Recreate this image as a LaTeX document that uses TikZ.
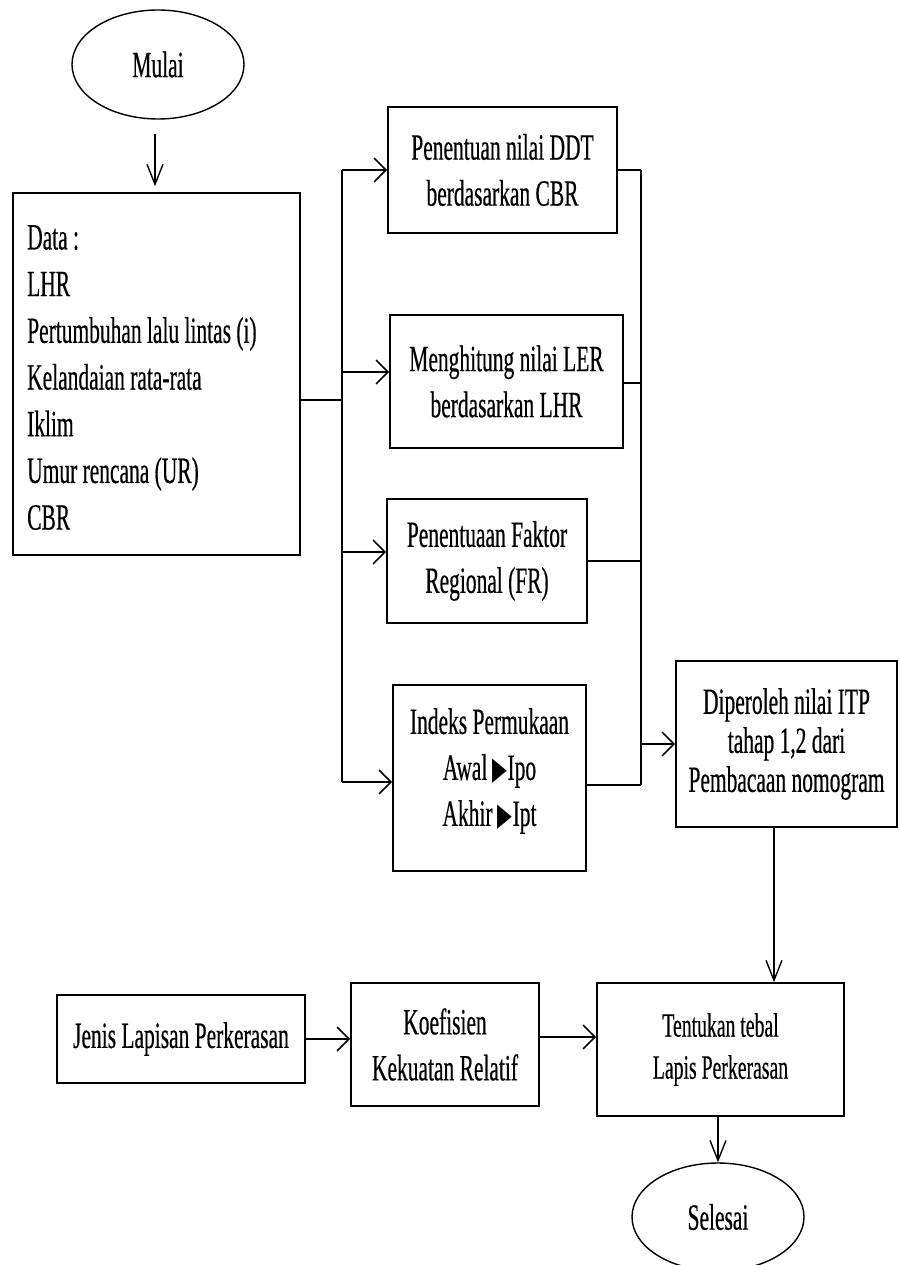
\documentclass[tikz,border=0pt]{standalone}
\usepackage{fontspec}
\setmainfont{Liberation Serif}[FakeStretch=0.58,FakeBold=0.4]
\newfontfamily\symfont{DejaVu Sans}[FakeStretch=0.6]
\usetikzlibrary{shapes.geometric,arrows.meta}
\newcommand\fmain{\fontsize{37}{46}\selectfont}
\newcommand\fdip{\fontsize{37}{39}\selectfont}
\newcommand\ftent{\fontsize{34}{42}\selectfont}
\newcommand\tri{{\symfont\fontsize{32}{32}\selectfont ▶}}
\tikzset{
  box/.style={draw, line width=1.6pt, align=center, inner sep=0pt, font=\fmain},
  oval/.style={draw, ellipse, line width=1.4pt, inner sep=0pt, font=\fmain},
  txt/.style={align=center, inner sep=0pt, font=\fmain},
  ln/.style={line width=2pt},
  harr/.style={line width=2pt, -{Straight Barb[length=12pt,width=24pt,line width=1.6pt]}},
  varr/.style={line width=1.4pt, -{Straight Barb[length=20pt,width=16pt,line width=1.4pt]}}
}
\begin{document}
\begin{tikzpicture}[x=1pt,y=-1pt]
\useasboundingbox (0,0) rectangle (899,1265);
\fill[white] (0,0) rectangle (899,1265);

\node[oval, minimum width=172, minimum height=109] (mulai) at (158,64.5) {Mulai};
\node[box, minimum width=287, minimum height=362] (data) at (156.5,374) {};
\node[anchor=north west, align=left, inner sep=0pt, font={\fontsize{37}{46.7}\selectfont}] (datatext) at (27,225)
  {Data :\\LHR\\Pertumbuhan lalu lintas (i)\\Kelandaian rata-rata\\Iklim\\Umur rencana (UR)\\CBR};

\node[box, minimum width=229, minimum height=126] (ddt) at (502.5,170) {Penentuan nilai DDT\\berdasarkan CBR};
\node[box, minimum width=233, minimum height=133] (ler) at (506.5,381.5) {Menghitung nilai LER\\berdasarkan LHR};
\node[box, minimum width=200, minimum height=124] (fr) at (487,561) {Penentuaan Faktor\\Regional (FR)};
\node[box, minimum width=193, minimum height=186] (ip) at (489.5,778) {};
\node[txt] (iptext) at (489.5,771) {Indeks Permukaan\\Awal \tri Ipo\\Akhir \tri Ipt};
\node[box, font=\fdip, minimum width=221, minimum height=166] (dip) at (786.5,744) {Diperoleh nilai ITP\\tahap 1,2 dari\\Pembacaan nomogram};

\node[box, minimum width=248, minimum height=88] (jenis) at (181,1039) {Jenis Lapisan Perkerasan};
\node[box, minimum width=188, minimum height=123] (koef) at (445,1044.5) {Koefisien\\Kekuatan Relatif};
\node[box, font=\ftent, minimum width=247, minimum height=133] (tent) at (720.5,1049.5) {Tentukan tebal\\Lapis Perkerasan};
\node[oval, minimum width=172, minimum height=108] (sel) at (718,1217) {Selesai};

% start
\draw[varr, shorten <=14pt, shorten >=6pt] (mulai.south -| 155,0) -- (data.north -| 155,0);

% left distribution
\coordinate (bl) at (342,400);
\draw[ln] (data.east |- bl) -- (bl);
\draw[ln] (bl |- ddt.west) -- (bl |- ip.west) -- ++(0,4);
\draw[harr] (bl |- ddt.west) -- (ddt.west);
\draw[harr] (bl |- 0,372) -- (ler.west |- 0,372);
\draw[harr] (bl |- 0,552) -- (fr.west |- 0,552);
\draw[harr] (bl |- 0,782) -- (ip.west |- 0,782);

% right collection
\coordinate (br) at (641,744);
\draw[ln] (ddt.east) -- (br |- ddt.east);
\draw[ln] (ler.east |- 0,383) -- (br |- 0,383);
\draw[ln] (fr.east) -- (br |- fr.east);
\draw[ln] (ip.east |- 0,785) -- (br |- 0,785);
\draw[ln] (br |- ddt.east) -- (br |- 0,785);
\draw[harr] (br) -- (dip.west);

% down to Tentukan
\coordinate (cx) at (774,0);
\draw[varr] (dip.south -| cx) -- (tent.north -| cx);

% bottom row
\draw[harr] (jenis.east) -- (koef.west |- jenis.east);
\draw[harr] (koef.east |- 0,1037) -- (tent.west |- 0,1037);
\draw[varr] (tent.south -| sel.north) -- (sel.north);
\end{tikzpicture}
\end{document}
